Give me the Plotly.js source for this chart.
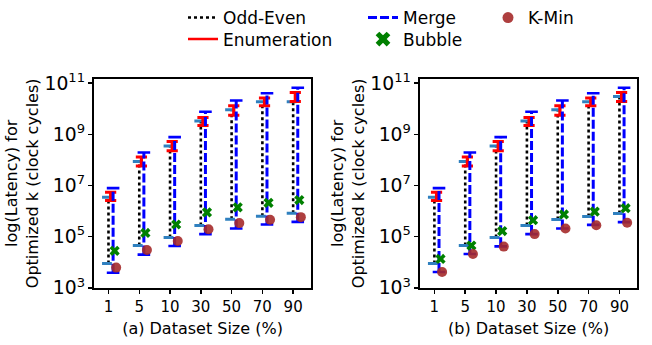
<!DOCTYPE html>
<html><head><meta charset="utf-8">
<script src="https://cdn.plot.ly/plotly-3.0.1.min.js"></script>
<style>html,body{margin:0;padding:0;background:#fff}#chart{width:652px;height:345px}</style>
</head><body><div id="chart"></div>
<script>
// Dataset sizes (%)
const sizes = ['1', '5', '10', '30', '50', '70', '90'];

// Latency in clock cycles, panel (a)
const oddEvenLowA  = [8.9e3, 4.5e4, 9.3e4, 2.75e5, 4.8e5, 6.3e5, 8.3e5];
const oddEvenHighA = [3.5e6, 8.7e7, 3.5e8, 3.3e9, 9.1e9, 1.86e10, 1.86e10];
const enumLowA     = [2.6e6, 5.8e7, 2.3e8, 2.2e9, 5.6e9, 1.3e10, 1.9e10];
const enumHighA    = [5.4e6, 1.3e8, 5.2e8, 4.5e9, 1.3e10, 2.6e10, 4.3e10];
const mergeLowA    = [3.9e3, 2.0e4, 4.3e4, 1.26e5, 2.1e5, 3.0e5, 3.8e5];
const mergeHighA   = [7.9e6, 1.95e8, 7.8e8, 7.6e9, 2.1e10, 4.0e10, 6.6e10];
const bubbleA      = [2.8e4, 1.4e5, 3.0e5, 8.9e5, 1.4e6, 2.1e6, 2.7e6];
const kminA        = [6.2e3, 3.0e4, 6.8e4, 1.95e5, 3.4e5, 4.6e5, 5.8e5];

// Latency in clock cycles, panel (b)
const oddEvenLowB  = [8.9e3, 4.5e4, 9.3e4, 2.75e5, 4.7e5, 6.2e5, 8.0e5];
const oddEvenHighB = [3.5e6, 8.7e7, 3.5e8, 3.3e9, 9.1e9, 1.86e10, 3.0e10];
const enumLowB     = [2.6e6, 5.8e7, 2.3e8, 2.2e9, 5.6e9, 1.3e10, 1.9e10];
const enumHighB    = [5.4e6, 1.3e8, 5.2e8, 4.5e9, 1.3e10, 2.6e10, 4.3e10];
const mergeLowB    = [4.2e3, 2.1e4, 4.2e4, 1.26e5, 2.1e5, 2.9e5, 3.7e5];
const mergeHighB   = [7.9e6, 1.95e8, 7.8e8, 7.6e9, 2.1e10, 4.0e10, 6.6e10];
const bubbleB      = [1.35e4, 4.5e4, 1.66e5, 4.4e5, 7.4e5, 9.5e5, 1.3e6];
const kminB        = [4.2e3, 2.1e4, 4.1e4, 1.26e5, 2.1e5, 2.8e5, 3.5e5];

const idx = sizes.map((_, i) => i);
const C = {oe: '#000000', tick: '#2f80bf', en: '#ff0000', mg: '#0000ff', bub: '#008000', km: '#a52a2a'};

function seg(off, lo, hi) {
  const x = [], y = [];
  idx.forEach(i => { x.push(i + off, i + off, null); y.push(lo[i], hi[i], null); });
  return {x, y};
}
function ends(off, lo, hi) {
  const x = [], y = [];
  idx.forEach(i => { x.push(i + off, i + off); y.push(lo[i], hi[i]); });
  return {x, y};
}

function panel(xa, ya, d) {
  const t = [];
  const oe = seg(0, d.oeLo, d.oeHi);
  t.push({x: oe.x, y: oe.y, xaxis: xa, yaxis: ya, mode: 'lines', showlegend: false,
    line: {color: C.oe, width: 2.6, dash: 'dot'}, hoverinfo: 'skip'});
  const oet = ends(-0.05, d.oeLo, d.oeHi);
  t.push({x: oet.x, y: oet.y, xaxis: xa, yaxis: ya, mode: 'markers', showlegend: false,
    marker: {symbol: 'line-ew', size: 7, line: {color: C.tick, width: 3}}});
  const en = seg(0.07, d.enLo, d.enHi);
  t.push({x: en.x, y: en.y, xaxis: xa, yaxis: ya, mode: 'lines', showlegend: false,
    line: {color: C.en, width: 3.2}});
  const ent = ends(0.07, d.enLo, d.enHi);
  t.push({x: ent.x, y: ent.y, xaxis: xa, yaxis: ya, mode: 'markers', showlegend: false,
    marker: {symbol: 'line-ew', size: 8, line: {color: C.en, width: 3}}});
  const mg = seg(0.15, d.mgLo, d.mgHi);
  t.push({x: mg.x, y: mg.y, xaxis: xa, yaxis: ya, mode: 'lines', showlegend: false,
    line: {color: C.mg, width: 3, dash: '9px,3px'}});
  const mgt = ends(0.15, d.mgLo, d.mgHi);
  t.push({x: mgt.x, y: mgt.y, xaxis: xa, yaxis: ya, mode: 'markers', showlegend: false,
    marker: {symbol: 'line-ew', size: 9, line: {color: C.mg, width: 2.6}}});
  t.push({x: idx.map(i => i + 0.2), y: d.bub, xaxis: xa, yaxis: ya, mode: 'markers', showlegend: false,
    marker: {symbol: 'x', size: 9, color: C.bub}});
  t.push({x: idx.map(i => i + 0.25), y: d.km, xaxis: xa, yaxis: ya, mode: 'markers', showlegend: false,
    marker: {symbol: 'circle', size: 10, color: C.km, opacity: 0.9}});
  return t;
}

const traces = [].concat(
  panel('x', 'y', {oeLo: oddEvenLowA, oeHi: oddEvenHighA, enLo: enumLowA, enHi: enumHighA,
    mgLo: mergeLowA, mgHi: mergeHighA, bub: bubbleA, km: kminA}),
  panel('x2', 'y2', {oeLo: oddEvenLowB, oeHi: oddEvenHighB, enLo: enumLowB, enHi: enumHighB,
    mgLo: mergeLowB, mgHi: mergeHighB, bub: bubbleB, km: kminB}),
  [
    {x: [null], y: [null], name: 'Odd-Even', mode: 'lines', legend: 'legend', line: {color: C.oe, width: 2.6, dash: 'dot'}},
    {x: [null], y: [null], name: 'Enumeration', mode: 'lines', legend: 'legend2', line: {color: C.en, width: 2.6}},
    {x: [null], y: [null], name: 'Merge', mode: 'lines', legend: 'legend3', line: {color: C.mg, width: 3, dash: '9px,3px'}},
    {x: [null], y: [null], name: 'Bubble', mode: 'markers', legend: 'legend4', marker: {symbol: 'x', size: 13, color: C.bub}},
    {x: [null], y: [null], name: 'K-Min', mode: 'markers', legend: 'legend5', marker: {symbol: 'circle', size: 11, color: C.km, opacity: 0.9}}
  ]
);

const font = {family: 'DejaVu Sans', size: 16, color: '#000'};
function xax(dom, title) {
  return {domain: dom, range: [-0.47, 6.58], tickmode: 'array', tickvals: idx, ticktext: sizes,
    ticks: 'outside', ticklen: 4, tickwidth: 1.5, tickcolor: '#000', showline: true, mirror: true,
    linewidth: 2, linecolor: '#000', showgrid: false, zeroline: false, tickfont: {size: 15},
    title: {text: title, font: {size: 16}, standoff: 8}};
}
function yax(anchor) {
  return {domain: [0.168, 0.783], type: 'log', range: [3, 11.17], tick0: 3, dtick: 2,
    exponentformat: 'power', ticks: 'outside', ticklen: 4, tickwidth: 1.5, tickcolor: '#000',
    showline: true, mirror: true, linewidth: 2, linecolor: '#000', showgrid: false, zeroline: false,
    tickfont: {size: 15}, anchor: anchor,
    title: {text: 'log(Latency) for<br>Optimized k (clock cycles)', font: {size: 16}, standoff: 2}};
}
const legBase = {orientation: 'v', yanchor: 'middle', xanchor: 'left', bgcolor: 'rgba(0,0,0,0)',
  font: {size: 17}, tracegroupgap: 0, itemwidth: 30, borderwidth: 0};
const row1 = 1 - 13 / 345, row2 = 1 - 35 / 345;

const layout = {
  width: 652, height: 345, margin: {l: 0, r: 0, t: 0, b: 0},
  paper_bgcolor: '#fff', plot_bgcolor: '#fff', font: font, showlegend: true,
  xaxis: Object.assign(xax([0.1442, 0.477], '(a) Dataset Size (%)'), {anchor: 'y'}),
  yaxis: yax('x'),
  xaxis2: Object.assign(xax([0.644, 0.9775], '(b) Dataset Size (%)'), {anchor: 'y2'}),
  yaxis2: yax('x2'),
  legend: Object.assign({}, legBase, {x: 183 / 652, y: row1}),
  legend2: Object.assign({}, legBase, {x: 183 / 652, y: row2}),
  legend3: Object.assign({}, legBase, {x: 363 / 652, y: row1}),
  legend4: Object.assign({}, legBase, {x: 363 / 652, y: row2}),
  legend5: Object.assign({}, legBase, {x: 488 / 652, y: row1})
};

Plotly.newPlot('chart', traces, layout, {staticPlot: true, displayModeBar: false});
</script>
</body></html>
